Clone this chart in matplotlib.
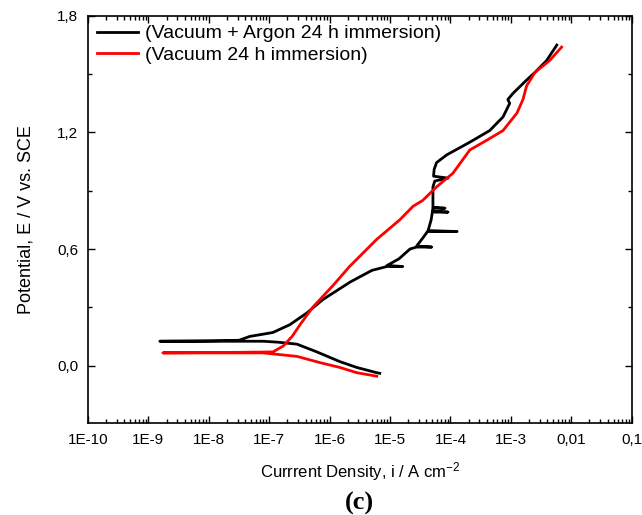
import numpy as np
import matplotlib
matplotlib.use("Agg")
import matplotlib.pyplot as plt
from matplotlib.ticker import FixedLocator, NullFormatter, FuncFormatter

plt.rcParams['font.family'] = ['Liberation Sans', 'DejaVu Sans']
plt.rcParams['mathtext.default'] = 'regular'

# log10(i) and E for each curve
argon_logi = [-5.17, -5.22, -5.55, -5.83, -6.21, -6.54, -6.85, -7.1, -7.5, -8.0, -8.81,
              -8.0, -7.5, -7.32, -6.94, -6.66, -6.38, -6.11, -5.66, -5.3, -5.05,
              -4.79, -5.05, -4.85, -4.67, -4.56, -4.31, -4.56, -4.45, -4.38, -3.89, -4.37,
              -4.32, -4.30, -4.04, -4.30, -4.29, -4.09, -4.29, -4.29, -4.26, -4.04, -4.28,
              -4.27, -4.23, -4.06, -3.68, -3.35, -3.13, -3.02, -3.05, -2.97, -2.74,
              -2.60, -2.41, -2.24]
argon_E = [-0.04, -0.037, -0.01, 0.02, 0.07, 0.11, 0.12, 0.125, 0.125, 0.125, 0.125,
           0.127, 0.13, 0.15, 0.17, 0.21, 0.27, 0.34, 0.43, 0.49, 0.51,
           0.51, 0.515, 0.55, 0.60, 0.61, 0.61, 0.615, 0.66, 0.69, 0.69, 0.695,
           0.75, 0.79, 0.79, 0.795, 0.81, 0.81, 0.815, 0.92, 0.95, 0.965, 0.975,
           1.01, 1.045, 1.085, 1.15, 1.21, 1.28, 1.35, 1.37, 1.40, 1.47,
           1.51, 1.57, 1.65]

vac_logi = [-5.22, -5.55, -5.83, -6.16, -6.54, -7.1, -7.5, -8.76,
            -7.5, -6.94, -6.77, -6.62, -6.49, -6.28, -5.95, -5.67, -5.22,
            -4.84, -4.62, -4.46, -4.23, -3.96, -3.68, -3.40, -3.13, -2.90, -2.80,
            -2.74, -2.60, -2.36, -2.16]
vac_E = [-0.055, -0.037, -0.01, 0.015, 0.047, 0.065, 0.065, 0.065,
         0.068, 0.07, 0.10, 0.15, 0.21, 0.30, 0.41, 0.51, 0.65,
         0.75, 0.82, 0.85, 0.92, 0.99, 1.11, 1.16, 1.21, 1.30, 1.37,
         1.44, 1.51, 1.57, 1.64]

labels = ['(Vacuum + Argon 24 h immersion)', '(Vacuum 24 h immersion)']
x_ticks = [1e-10, 1e-9, 1e-8, 1e-7, 1e-6, 1e-5, 1e-4, 1e-3, 1e-2, 1e-1]
x_ticklabels = ['1E-10', '1E-9', '1E-8', '1E-7', '1E-6', '1E-5', '1E-4', '1E-3', '0,01', '0,1']
y_ticks = [0.0, 0.6, 1.2, 1.8]

fig = plt.figure(figsize=(6.42, 5.15), dpi=100)
ax = fig.add_axes([0.137, 0.179, 0.847, 0.790])

ax.plot(10 ** np.array(argon_logi), argon_E, color='black', lw=2.0, label=labels[0])
ax.plot(10 ** np.array(vac_logi), vac_E, color='red', lw=2.0, label=labels[1])

ax.set_xscale('log')
ax.set_xlim(1e-10, 0.1)
ax.set_ylim(-0.295, 1.8)
ax.xaxis.set_major_locator(FixedLocator(x_ticks))
ax.set_xticklabels(x_ticklabels)
minor_x = [m * d for d in x_ticks[:-1] for m in range(2, 10)]
ax.xaxis.set_minor_locator(FixedLocator(minor_x))
ax.xaxis.set_minor_formatter(NullFormatter())
ax.yaxis.set_major_locator(FixedLocator(y_ticks))
ax.yaxis.set_minor_locator(FixedLocator([-0.3, 0.3, 0.9, 1.5]))
ax.yaxis.set_major_formatter(FuncFormatter(lambda v, p: ('%.1f' % v).replace('.', ',')))

ax.tick_params(which='both', direction='in', top=True, right=True, labelsize=11)
ax.tick_params(which='major', length=5, width=1, pad=7)
ax.tick_params(which='minor', length=3, width=1)
for s in ax.spines.values():
    s.set_linewidth(1.2)

ax.set_xlabel('Currrent Density, i / A cm$^{-2}$', fontsize=12, labelpad=10)
ax.set_ylabel('Potential, E / V vs. SCE', fontsize=13, labelpad=16)

ax.legend(loc='upper left', frameon=False, fontsize=14, handlelength=2.1,
          borderaxespad=0.0, borderpad=0.45, handletextpad=0.4, labelspacing=0.2)

fig.text(0.56, 0.01, '(c)', fontsize=19, fontweight='bold', family='Liberation Serif', ha='center')

fig.savefig('out.png', dpi=100)
